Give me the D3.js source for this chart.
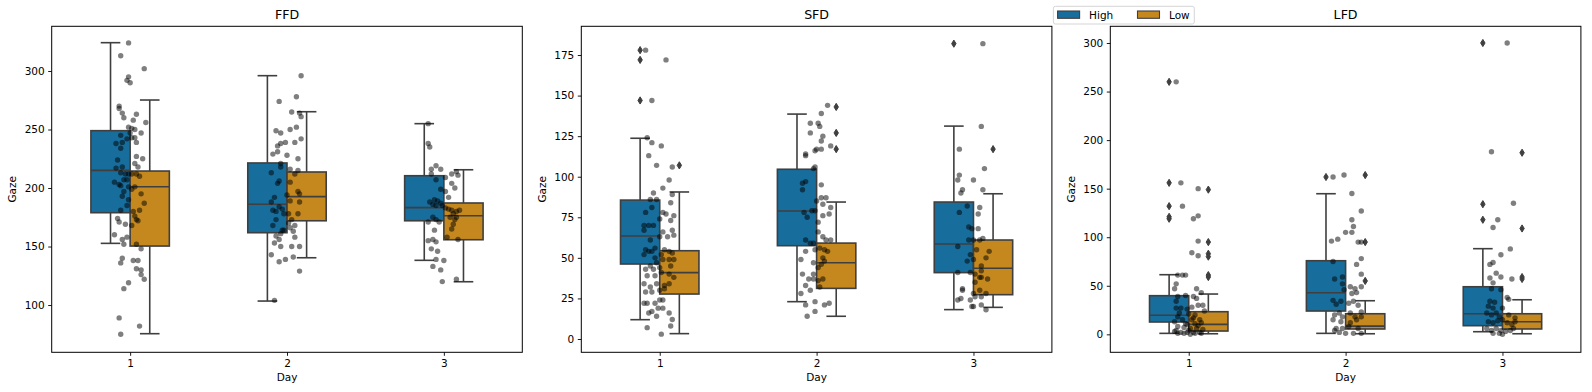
<!DOCTYPE html>
<html>
<head>
<meta charset="utf-8">
<script src="https://cdn.jsdelivr.net/npm/d3@7"></script>
<style>
  body { margin: 0; background: #fff; }
  svg { font-family: "DejaVu Sans", sans-serif; }
</style>
</head>
<body>
<div id="chart"></div>
<script>
var days = ["1", "2", "3"];
var hues = ["High", "Low"];
var titles = ["FFD", "SFD", "LFD"];

// box stats per day: [whisker low, q1, median, q3, whisker high]
var ffdHigh = [[152.7, 178.9, 215.1, 249, 324.2], [103.4, 161.8, 186.1, 221.4, 296], [138.2, 172, 183.2, 210.5, 255]];
var ffdLow = [[75.5, 150.4, 201.1, 214.5, 275.2], [140.4, 172, 192.6, 213.7, 265.2], [119.9, 155.8, 176.3, 187.2, 215.6]];
var sfdHigh = [[11.9, 46.2, 63.5, 85.6, 123.7], [23, 57.5, 78.9, 104.6, 138.6], [18.1, 40.9, 58.5, 84.4, 131.2]];
var sfdLow = [[3.3, 27.7, 40.9, 54.4, 90.6], [14, 31.2, 47, 59.1, 84.4], [19.5, 27.3, 43.6, 61, 89.5]];
var lfdHigh = [[1, 12.7, 19.6, 39.8, 61.4], [1, 24, 42.8, 75.8, 144.8], [2.7, 8.9, 21.2, 49, 88.2]];
var lfdLow = [[0.6, 3.4, 10.3, 23.3, 41.5], [0.6, 5.5, 8.5, 21.2, 34.6], [0.6, 5.5, 13, 21.2, 35.6]];

// fliers per day
var ffdOutHigh = [[], [], []];
var ffdOutLow = [[], [], []];
var sfdOutHigh = [[178, 172, 147], [], [182]];
var sfdOutLow = [[107], [143, 127, 117], [117]];
var lfdOutHigh = [[260, 156, 132, 121, 119], [162], [300, 134, 118]];
var lfdOutLow = [[149, 95, 83, 80, 61, 59], [164, 95, 55], [187, 109, 59, 57]];

// strip points per day: [value, jitter]
var ffdPoints = [
  [[324,-0.01],[313,-0.06],[302,0.09],[295,-0.01],[292,-0.02],[290,0],[270,-0.07],[268,-0.07],[264,-0.05],[260,-0.04],[263,0.04],[258,0.02],[256,0.10],[252,-0.01],[251,0.01],[250,0.03],[247,0],[243,0.01],[247,0.07],[245,-0.06],[242,-0.02],[243,0.03],[239,-0.05],[238,-0.09],[234,-0.06],[239,0.04],[227,0.04],[221,0.03],[225,0.08],[224,-0.08],[218,0.05],[218,-0.05],[217,-0.09],[213,-0.06],[212,-0.03],[212,-0.01],[212,0.01],[212,0.04],[210,0.06],[205,-0.10],[203,-0.07],[207,-0.04],[207,-0.02],[202,-0.06],[201,-0.01],[201,0.03],[199,0.01],[195,0.07],[197,-0.04],[193,-0.05],[187,0.09],[190,-0.01],[185,-0.02],[180,0.02],[181,0.06],[181,-0.06],[176,0.03],[173,0.04],[172,0.05],[174,-0.08],[171,-0.07],[169,-0.03],[168,0.01],[160,-0.10],[156,-0.05],[158,-0.02],[152,-0.04],[152,0.04],[148,0.07],[140,-0.05],[136,-0.06],[138,0.02],[138,0.05],[131,0.04],[130,0.07],[126,0.07],[122,0.09],[119,-0.01],[114,-0.04],[89,-0.07],[75,-0.06],[82,0.06]],
  [[296,0.09],[274,-0.05],[278,0.06],[265,0.03],[264,0.08],[261,0.09],[249,-0.07],[247,-0.04],[250,0.02],[252,0.06],[242,0.09],[236,-0.06],[238,-0.04],[239,-0.01],[239,0.05],[229,-0.09],[231,-0.06],[228,0],[225,0.07],[221,-0.04],[218,-0.04],[216,0.02],[212,0.05],[215,0.07],[213,-0.10],[206,-0.05],[204,-0.06],[205,0.02],[197,0.07],[195,0.08],[192,-0.08],[188,-0.10],[194,0],[189,0.02],[188,0.08],[184,-0.05],[182,-0.03],[181,-0.09],[180,-0.07],[178,-0.02],[178,0.01],[178,0.07],[173,0.03],[173,-0.07],[168,-0.09],[170,0.01],[166,0.02],[168,0.05],[163,0.04],[164,-0.03],[164,-0.02],[161,-0.04],[159,-0.07],[156,-0.05],[153,-0.08],[150,-0.04],[158,0.05],[150,0.03],[150,0.08],[143,-0.10],[137,-0.05],[139,-0.01],[141,0.04],[129,0.08],[104,-0.08]],
  [[255,-0.10],[238,-0.10],[235,-0.09],[216,-0.08],[219,-0.05],[216,-0.02],[209,0.01],[212,0.05],[214,0.08],[211,0.09],[204,0.05],[200,0.07],[207,-0.05],[212,-0.08],[199,-0.02],[197,0.01],[192,0.03],[188,-0.09],[190,-0.06],[189,-0.04],[187,-0.02],[186,-0.07],[185,-0.05],[185,-0.01],[183,0.01],[182,0.03],[181,0.05],[180,0.08],[181,0.10],[178,0.06],[175,0.04],[175,0.08],[173,0.07],[175,-0.07],[173,-0.05],[171,-0.03],[171,-0.10],[169,0.06],[165,0.05],[164,-0.06],[158,0.02],[156,0.09],[155,-0.10],[156,-0.07],[154,-0.05],[148,-0.08],[146,-0.04],[139,-0.05],[138,0],[133,-0.07],[130,-0.02],[120,-0.01],[122,0.08]]
];
var sfdPoints = [
  [[178,-0.09],[172,0.04],[147,-0.05],[124,-0.08],[121,-0.05],[119,0.01],[113,-0.07],[107,-0.02],[106,0.08],[98,0.06],[93,0.02],[90,-0.04],[89,0.08],[84,0.07],[86,-0.02],[86,-0.06],[78,-0.09],[81,-0.05],[78,0.02],[77,0.04],[76,0.09],[74,0],[73,0.07],[70,-0.10],[70,-0.07],[70,-0.04],[67,0.08],[67,-0.10],[64,0.09],[66,0.02],[63,0.05],[61,-0.06],[63,0],[55,-0.09],[54,-0.07],[56,-0.03],[54,-0.05],[55,0.03],[54,0.06],[53,0.08],[52,0.01],[52,-0.10],[49,0.02],[49,0.06],[49,0.09],[50,-0.03],[47,-0.02],[45,-0.06],[43,-0.04],[44,0],[43,-0.09],[41,0.01],[45,0.07],[40,0.06],[39,-0.08],[39,-0.03],[34,-0.10],[34,-0.02],[33,0.03],[34,0.06],[38,0.09],[32,-0.06],[29,-0.09],[29,-0.05],[30,0],[31,0.03],[22,-0.10],[22,-0.08],[22,-0.03],[24,0],[24,0.02],[17,-0.05],[19,-0.01],[19,0.02],[16,-0.07],[16,0.06],[14,-0.02],[12,0.08],[7,-0.08],[8,0.07],[3,0.01]],
  [[144,0.07],[139,0.03],[133,-0.04],[133,0.01],[131,0.02],[127,-0.04],[125,0.04],[122,0.03],[114,-0.07],[113,-0.07],[116,-0.01],[117,0],[117,0.03],[119,0.09],[106,-0.01],[105,-0.02],[97,-0.07],[96,-0.09],[92,-0.09],[95,0.03],[87,0.03],[87,0.06],[85,0],[83,0.04],[81,0.09],[77,0.08],[76,0.04],[79,-0.01],[79,-0.03],[78,-0.08],[75,-0.06],[72,0.01],[66,0.01],[63,0.04],[61,0.06],[61,0.09],[61,-0.07],[59,-0.04],[59,-0.02],[55,-0.01],[56,0.02],[55,0.05],[54,0.07],[54,-0.07],[49,-0.10],[47,-0.02],[50,0.04],[48,0.05],[46,0.03],[44,0.01],[40,-0.02],[37,0.04],[40,-0.09],[37,-0.05],[37,-0.02],[36,0.01],[33,-0.07],[30,-0.04],[32,0.02],[28,-0.10],[22,0.08],[21,0.05],[23,-0.01],[21,-0.07],[17,-0.01],[14,-0.06]],
  [[182,0.06],[131,0.05],[117,-0.09],[105,0.07],[101,-0.09],[98,-0.10],[98,0],[92,-0.07],[90,-0.08],[92,0.06],[82,-0.04],[78,-0.09],[81,0.04],[77,0.03],[69,-0.03],[68,-0.01],[68,0.03],[61,-0.03],[61,0],[61,0.04],[62,0.06],[57,-0.10],[55,0.02],[54,0.10],[50,0.08],[52,-0.02],[48,-0.04],[49,0],[45,0.05],[42,0.05],[41,-0.10],[41,-0.02],[40,0.01],[38,0.05],[38,0.04],[37,0.09],[35,0.01],[31,-0.07],[30,-0.07],[30,0.04],[28,0.08],[26,0.05],[28,0],[24,-0.02],[25,-0.08],[24,-0.10],[26,0.01],[21,0.05],[20,-0.01],[20,0],[18,0.08]]
];
var lfdPoints = [
  [[260,-0.08],[156,-0.05],[132,-0.04],[119,0.03],[122,0.06],[150,0.06],[96,0.06],[84,0.02],[81,0.06],[61,-0.07],[61,-0.04],[61,-0.02],[52,-0.08],[47,-0.09],[47,0.05],[43,0.08],[39,-0.07],[40,-0.02],[39,0.03],[37,0.05],[30,0.09],[34,-0.08],[27,-0.05],[26,-0.01],[28,0.02],[30,0.06],[27,-0.08],[22,-0.06],[21,0],[20,0.04],[24,0.10],[18,-0.07],[15,-0.04],[15,0.02],[15,0.07],[13,-0.09],[11,-0.02],[11,0.04],[12,0.08],[8,-0.07],[7,-0.03],[6,0.01],[6,0.05],[5,0.09],[4,-0.08],[2,-0.05],[2,-0.01],[2,0.03],[2,0.07],[1,0.08],[1,-0.03],[1,-0.07],[0,0.01],[3,-0.09],[1,0.04],[4,0],[9,0.06],[17,0.03],[10,-0.01]],
  [[162,-0.08],[164,-0.01],[145,0.04],[127,0.10],[96,-0.09],[98,-0.05],[118,0.04],[111,0.05],[105,0],[105,0.04],[95,0.08],[95,0.10],[78,0.10],[72,0.07],[62,0.10],[75,-0.08],[57,-0.07],[59,-0.02],[52,-0.02],[35,-0.08],[31,-0.06],[46,-0.01],[34,-0.03],[49,0.03],[47,0.06],[42,0.04],[49,0.10],[43,0.07],[34,0.05],[32,0.02],[30,0.08],[23,0.10],[20,-0.07],[22,-0.04],[18,-0.02],[22,0.03],[18,0.06],[18,0.10],[15,-0.08],[13,-0.03],[12,0.03],[15,0.07],[6,-0.06],[6,-0.02],[8,0.02],[6,0.08],[2,-0.04],[1,0],[1,0.05],[1,0.10],[4,-0.07]],
  [[300,0.03],[188,-0.07],[135,0.07],[118,-0.03],[110,-0.06],[88,0.05],[82,-0.01],[72,-0.08],[74,-0.06],[63,-0.04],[59,-0.01],[58,-0.08],[57,0.06],[53,-0.06],[46,-0.01],[47,-0.07],[38,0.03],[36,0.04],[34,-0.08],[33,-0.05],[29,-0.09],[27,-0.06],[27,0],[22,-0.10],[20,-0.07],[22,-0.04],[18,-0.02],[20,0.04],[17,0.08],[13,-0.09],[12,-0.06],[14,-0.03],[15,0],[12,0.03],[10,0.06],[13,0.08],[6,-0.10],[4,-0.07],[6,-0.04],[4,-0.01],[3,0.02],[4,0.05],[6,0.07],[1,-0.06],[0,0],[1,-0.02]]
];

var ffdTicks = [100, 150, 200, 250, 300];
var sfdTicks = [0, 25, 50, 75, 100, 125, 150, 175];
var lfdTicks = [0, 50, 100, 150, 200, 250, 300];

var ffdDomain = [59.6, 338.2];
var sfdDomain = [-8.2, 192.7];
var lfdDomain = [-18.5, 317.2];

var panels = [
  { high: ffdHigh, low: ffdLow, outHigh: ffdOutHigh, outLow: ffdOutLow, points: ffdPoints, ticks: ffdTicks, domain: ffdDomain },
  { high: sfdHigh, low: sfdLow, outHigh: sfdOutHigh, outLow: sfdOutLow, points: sfdPoints, ticks: sfdTicks, domain: sfdDomain },
  { high: lfdHigh, low: lfdLow, outHigh: lfdOutHigh, outLow: lfdOutLow, points: lfdPoints, ticks: lfdTicks, domain: lfdDomain }
];

var width = 1592;
var height = 392;
var axLeft = [51.7, 581.3, 1110.3];
var axWidth = 470.6;
// note: "top" is taken by window.top, so axTop
var axTop = 26.3;
var axBottom = 352.3;

var colors = ["#176d9c", "#c4881f"];
var gray = "#3f3f3f";
var boxWidth = 0.25;

var svg = d3
  .select("#chart")
  .append("svg")
  .attr("width", width)
  .attr("height", height);

panels.forEach(function(p, pi) {
  var x = d3
    .scaleLinear()
    .domain([-0.5, 2.5])
    .range([axLeft[pi], axLeft[pi] + axWidth]);
  var y = d3
    .scaleLinear()
    .domain(p.domain)
    .range([axBottom, axTop]);

  var g = svg.append("g");

  // boxes, High on the left half, Low on the right half
  [p.high, p.low].forEach(function(stats, hi) {
    var fliers = hi === 0 ? p.outHigh : p.outLow;
    stats.forEach(function(s, di) {
      var x0 = x(di - boxWidth + hi * boxWidth);
      var x1 = x(di + hi * boxWidth);
      var xm = (x0 + x1) / 2;
      var cap = (x1 - x0) / 4;
      var bg = g.append("g")
        .attr("stroke", gray)
        .attr("stroke-width", 1.6)
        .attr("fill", "none");

      bg.append("line").attr("x1", xm).attr("x2", xm).attr("y1", y(s[0])).attr("y2", y(s[1]));
      bg.append("line").attr("x1", xm).attr("x2", xm).attr("y1", y(s[3])).attr("y2", y(s[4]));
      bg.append("line").attr("x1", xm - cap).attr("x2", xm + cap).attr("y1", y(s[0])).attr("y2", y(s[0]));
      bg.append("line").attr("x1", xm - cap).attr("x2", xm + cap).attr("y1", y(s[4])).attr("y2", y(s[4]));
      bg.append("rect")
        .attr("x", x0)
        .attr("y", y(s[3]))
        .attr("width", x1 - x0)
        .attr("height", y(s[1]) - y(s[3]))
        .attr("fill", colors[hi]);
      bg.append("line").attr("x1", x0).attr("x2", x1).attr("y1", y(s[2])).attr("y2", y(s[2]));

      bg.selectAll("path")
        .data(fliers[di])
        .enter()
        .append("path")
        .attr("d", "M0,-3.6L2.2,0L0,3.6L-2.2,0Z")
        .attr("fill", gray)
        .attr("stroke-width", 1)
        .attr("transform", d => `translate(${xm},${y(d)})`);
    });
  });

  // strip points on top
  p.points.forEach(function(pts, di) {
    g.append("g")
      .selectAll("circle")
      .data(pts)
      .enter()
      .append("circle")
      .attr("cx", d => x(di + d[1]))
      .attr("cy", d => y(d[0]))
      .attr("r", 2.7)
      .attr("fill", "#000")
      .attr("fill-opacity", 0.5);
  });

  var xAxis = g.append("g")
    .attr("transform", "translate(0," + axBottom + ")")
    .call(d3.axisBottom(x).tickValues([0, 1, 2]).tickFormat(i => days[i]).tickSize(3.5).tickPadding(3.5));
  var yAxis = g.append("g")
    .attr("transform", "translate(" + axLeft[pi] + ",0)")
    .call(d3.axisLeft(y).tickValues(p.ticks).tickSize(3.5).tickPadding(3.5));

  [xAxis, yAxis].forEach(function(a) {
    a.select(".domain").remove();
    a.selectAll("text")
      .attr("fill", "#000")
      .style("font-size", "10.5px")
      .style("font-family", "DejaVu Sans");
    a.selectAll("line").attr("stroke", "#000").attr("stroke-width", 0.9);
  });

  g.append("rect")
    .attr("x", axLeft[pi])
    .attr("y", axTop)
    .attr("width", axWidth)
    .attr("height", axBottom - axTop)
    .attr("fill", "none")
    .attr("stroke", "#000")
    .attr("stroke-width", 1);

  g.append("text")
    .attr("x", axLeft[pi] + axWidth / 2)
    .attr("y", 19)
    .attr("text-anchor", "middle")
    .style("font-size", "12.6px")
    .text(titles[pi]);

  g.append("text")
    .attr("x", axLeft[pi] + axWidth / 2)
    .attr("y", 381)
    .attr("text-anchor", "middle")
    .style("font-size", "10.5px")
    .text("Day");

  g.append("text")
    .attr("transform", "translate(" + (axLeft[pi] - 39) + "," + (axTop + axBottom) / 2 + ") rotate(-90)")
    .attr("dy", "0.35em")
    .attr("text-anchor", "middle")
    .style("font-size", "10.5px")
    .text("Gaze");
});

// legend
var legend = svg.append("g");
legend.append("rect")
  .attr("x", 1053.4)
  .attr("y", 6.3)
  .attr("width", 140.9)
  .attr("height", 17.7)
  .attr("rx", 2)
  .attr("fill", "#fff")
  .attr("fill-opacity", 0.8)
  .attr("stroke", "#d0d0d0")
  .attr("stroke-width", 0.9);

var legendX = [1057.6, 1137.5];
hues.forEach(function(h, i) {
  legend.append("rect")
    .attr("x", legendX[i])
    .attr("y", 11)
    .attr("width", 22)
    .attr("height", 7.3)
    .attr("fill", colors[i])
    .attr("stroke", gray)
    .attr("stroke-width", 1.1);
  legend.append("text")
    .attr("x", legendX[i] + 31.5)
    .attr("y", 18.5)
    .style("font-size", "10.5px")
    .text(h);
});
</script>
</body>
</html>
